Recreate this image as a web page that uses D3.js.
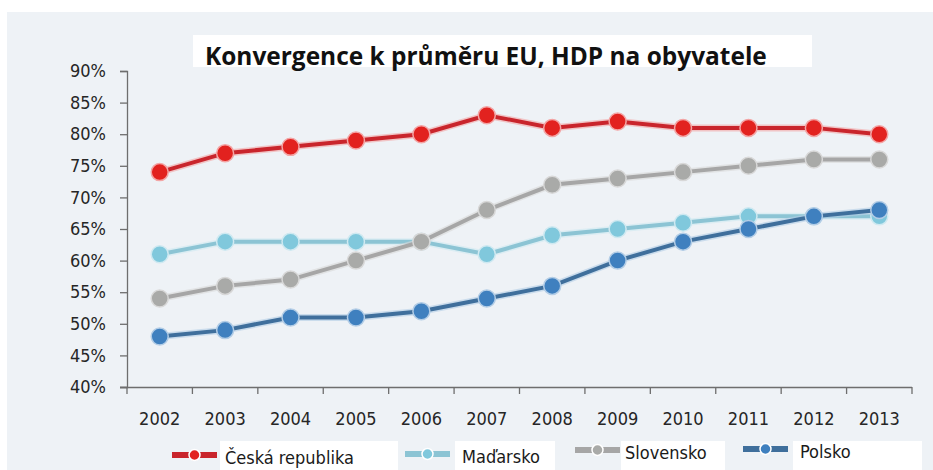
<!DOCTYPE html>
<html>
<head>
<meta charset="utf-8">
<script src="https://cdn.jsdelivr.net/npm/d3@7"></script>
<style>
  html, body { margin: 0; padding: 0; background: #ffffff; }
  svg { display: block; }
  text { font-family: "Liberation Sans Narrow", "DejaVu Sans Condensed", "Open Sans", sans-serif; fill: #2a2a2a; }
</style>
</head>
<body>
<svg id="chart" width="933" height="470"></svg>
<script>
const years = ["2002","2003","2004","2005","2006","2007","2008","2009","2010","2011","2012","2013"];
const ceskaRepublika = [74, 77, 78, 79, 80, 83, 81, 82, 81, 81, 81, 80];
const madarsko       = [61, 63, 63, 63, 63, 61, 64, 65, 66, 67, 67, 67];
const slovensko      = [54, 56, 57, 60, 63, 68, 72, 73, 74, 75, 76, 76];
const polsko         = [48, 49, 51, 51, 52, 54, 56, 60, 63, 65, 67, 68];
const seriesNames = ["Česká republika", "Maďarsko", "Slovensko", "Polsko"];
const yTicks = [40, 45, 50, 55, 60, 65, 70, 75, 80, 85, 90];
const titleText = "Konvergence k průměru EU, HDP na obyvatele";

const styles = [
  { line: "#c9252c", dot: "#e2221f", halo: "#f3a5a5" },
  { line: "#8cc4d4", dot: "#80c8dc", halo: "#cfe9f1" },
  { line: "#a6a6a6", dot: "#a9aaa8", halo: "#d8d8d8" },
  { line: "#3f6f9c", dot: "#3f80bf", halo: "#b3cde6" }
];
const seriesValues = [ceskaRepublika, madarsko, slovensko, polsko];

const svg = d3.select("#chart");

svg.append("rect").attr("x", 7).attr("y", 12).attr("width", 926).attr("height", 458).attr("fill", "#eef2f6");

const x = d3.scaleBand().domain(years).range([127, 912]).padding(0);
const y = d3.scaleLinear().domain([40, 90]).range([387, 71]);

svg.append("rect").attr("x", 193).attr("y", 35).attr("width", 619).attr("height", 32).attr("fill", "#ffffff");
const title = svg.append("text").attr("x", 205).attr("y", 65)
  .style("font-family", "'Open Sans', 'Liberation Sans', sans-serif")
  .style("font-weight", "700").style("font-size", "24px").style("fill", "#111").text(titleText);
const tw = title.node().getComputedTextLength();
title.style("font-size", (24 * 562 / tw) + "px");

const yAxis = svg.append("g").attr("transform", "translate(127,0)")
  .call(d3.axisLeft(y).tickValues(yTicks).tickFormat(d => d + "%").tickSize(7).tickPadding(14));
yAxis.select(".domain").attr("stroke", "#6e6e6e").attr("stroke-width", 1.3);
yAxis.selectAll(".tick line").attr("stroke", "#6e6e6e").attr("stroke-width", 1.3);
yAxis.selectAll(".tick text").style("font-size", "18px").style("fill", "#262626");

const xAxis = svg.append("g").attr("transform", "translate(0,387)")
  .call(d3.axisBottom(x).tickSize(0).tickPadding(25));
xAxis.select(".domain").attr("d", "M120,0.5H912").attr("stroke", "#6e6e6e").attr("stroke-width", 1.3);
xAxis.selectAll(".tick text").style("font-size", "18px").style("fill", "#262626");
const boundaries = years.map(d => x(d)).concat([x(years[years.length - 1]) + x.bandwidth()]);
xAxis.selectAll(".bt").data(boundaries).enter().append("line")
  .attr("x1", d => d).attr("x2", d => d).attr("y1", 0).attr("y2", 7)
  .attr("stroke", "#6e6e6e").attr("stroke-width", 1.3);

const cx = d => x(d) + x.bandwidth() / 2;
const line = d3.line().x((d, i) => cx(years[i])).y(d => y(d));

seriesValues.forEach((vals, si) => {
  const st = styles[si];
  const g = svg.append("g");
  g.append("path").datum(vals).attr("d", line).attr("fill", "none")
    .attr("stroke", st.halo).attr("stroke-width", 7).attr("stroke-opacity", 0.6);
  g.append("path").datum(vals).attr("d", line).attr("fill", "none")
    .attr("stroke", st.line).attr("stroke-width", 4);
  g.selectAll("circle").data(vals).enter().append("circle")
    .attr("cx", (d, i) => cx(years[i])).attr("cy", d => y(d)).attr("r", 8.5)
    .attr("fill", st.dot).attr("stroke", st.halo).attr("stroke-width", 1.5);
});

const legendItems = [
  { mx: 172, tx: 225, ty: 458, bx: 220, bw: 178 },
  { mx: 405, tx: 462, ty: 457, bx: 455, bw: 100 },
  { mx: 575, tx: 625, ty: 453, bx: 621, bw: 104 },
  { mx: 743, tx: 800, ty: 452, bx: 793, bw: 129 }
];
const leg = svg.append("g");
seriesNames.forEach((name, i) => {
  const it = legendItems[i];
  const st = styles[i];
  leg.append("rect").attr("x", it.bx).attr("y", 441).attr("width", it.bw).attr("height", 29).attr("fill", "#ffffff");
  leg.append("line").attr("x1", it.mx).attr("x2", it.mx + 45).attr("y1", it.ty - 3).attr("y2", it.ty - 3)
    .attr("stroke", st.line).attr("stroke-width", 6);
  leg.append("circle").attr("cx", it.mx + 22.5).attr("cy", it.ty - 3).attr("r", 5.5)
    .attr("fill", st.dot).attr("stroke", "#ffffff").attr("stroke-width", 1.5);
  leg.append("text").attr("x", it.tx).attr("y", it.ty).attr("dy", "0.35em")
    .style("font-size", "18px").style("fill", "#1a1a1a").text(name);
});
</script>
</body>
</html>
